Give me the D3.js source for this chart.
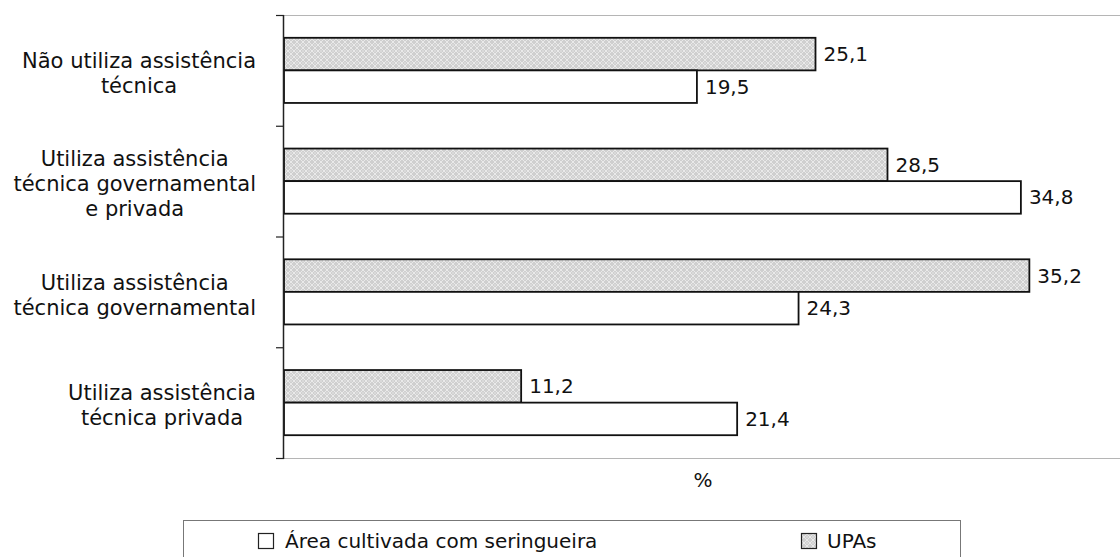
<!DOCTYPE html>
<html>
<head>
<meta charset="utf-8">
<script src="https://cdn.jsdelivr.net/npm/d3@7"></script>
<style>
  html, body { margin: 0; padding: 0; background: #fff; }
  svg { display: block; font-family: "DejaVu Sans", sans-serif; }
</style>
</head>
<body>
<svg id="chart" width="1120" height="557"></svg>
<script>
// ---- data ----
const categories = [
  "Não utiliza assistência técnica",
  "Utiliza assistência técnica governamental e privada",
  "Utiliza assistência técnica governamental",
  "Utiliza assistência técnica privada"
];
const categoryLines = [
  ["Não utiliza assistência", "técnica"],
  ["Utiliza assistência", "técnica governamental", "e privada"],
  ["Utiliza assistência", "técnica governamental"],
  ["Utiliza assistência", "técnica privada"]
];
const seriesNames = ["UPAs", "Área cultivada com seringueira"];
const upas = [25.1, 28.5, 35.2, 11.2];
const area = [19.5, 34.8, 24.3, 21.4];
const axisTitle = "%";
const fmt = v => String(v.toFixed(1)).replace(".", ",");

// ---- layout ----
const svg = d3.select("#chart");
const plot = { left: 284, top: 15, bottom: 458 };

const x = d3.scaleLinear().domain([0, 40]).range([plot.left, plot.left + 847]);
const y = d3.scaleBand().domain(categories).range([plot.top, plot.bottom]).padding(0);
const ySub = d3.scaleBand().domain(seriesNames).range([0, y.bandwidth()]).paddingInner(0).paddingOuter(0.7);

// pattern
const defs = svg.append("defs");
const pat = defs.append("pattern").attr("id", "hatch").attr("patternUnits", "userSpaceOnUse")
  .attr("width", 6).attr("height", 6);
pat.append("rect").attr("width", 6).attr("height", 6).attr("fill", "#cfcfcf");
pat.append("path").attr("d", "M0,3 L3,0 L6,3 L3,6 Z").attr("fill", "none").attr("stroke", "#ececec").attr("stroke-width", 0.9);
pat.append("circle").attr("cx", 3).attr("cy", 3).attr("r", 0.8).attr("fill", "#e6e6e6");

// light gray frame lines (top and bottom of plot area)
svg.append("line").attr("x1", 276).attr("x2", 1120).attr("y1", plot.top + 0.5).attr("y2", plot.top + 0.5)
  .attr("stroke", "#b5b5b5").attr("stroke-width", 1);
svg.append("line").attr("x1", 276).attr("x2", 1120).attr("y1", plot.bottom + 0.5).attr("y2", plot.bottom + 0.5)
  .attr("stroke", "#b5b5b5").attr("stroke-width", 1);

const seriesData = [
  { name: "UPAs", values: upas, fill: "url(#hatch)" },
  { name: "Área cultivada com seringueira", values: area, fill: "#fff" }
];

// bars
seriesData.forEach(s => {
  const g = svg.append("g");
  g.selectAll("rect").data(categories).join("rect")
    .attr("x", x(0))
    .attr("y", c => y(c) + ySub(s.name))
    .attr("width", (c, i) => x(s.values[i]) - x(0))
    .attr("height", ySub.bandwidth())
    .attr("fill", s.fill)
    .attr("stroke", "#111")
    .attr("stroke-width", 1.8);
  g.selectAll("text").data(categories).join("text")
    .attr("x", (c, i) => x(s.values[i]) + 8)
    .attr("y", c => y(c) + ySub(s.name) + ySub.bandwidth() / 2)
    .attr("dy", "0.35em")
    .attr("font-size", 20)
    .attr("fill", "#111")
    .text((c, i) => fmt(s.values[i]));
});

// y axis line and ticks at band boundaries
svg.append("line").attr("x1", plot.left - 0.5).attr("x2", plot.left - 0.5)
  .attr("y1", plot.top).attr("y2", plot.bottom + 1).attr("stroke", "#222").attr("stroke-width", 1.5);
const tickYs = categories.map(c => y(c)).concat([plot.bottom]);
svg.selectAll("line.tick").data(tickYs).join("line").attr("class", "tick")
  .attr("x1", 276).attr("x2", plot.left).attr("y1", d => d + 0.5).attr("y2", d => d + 0.5)
  .attr("stroke", "#222").attr("stroke-width", 1.2);

// category labels (centered lines, block right-aligned)
const labelRight = 256;
const lh = 25;
categories.forEach((c, i) => {
  const lines = categoryLines[i];
  const t = svg.append("text").attr("font-size", 21).attr("fill", "#111").attr("text-anchor", "middle");
  const tmp = lines.map(l => {
    const tt = svg.append("text").attr("font-size", 21).text(l);
    const w = tt.node().getComputedTextLength(); tt.remove(); return w;
  });
  const maxW = d3.max(tmp);
  const cx = labelRight - maxW / 2;
  const cy = y(c) + y.bandwidth() / 2 + 3;
  lines.forEach((l, j) => {
    t.append("tspan").attr("x", cx).attr("y", cy + (j - (lines.length - 1) / 2) * lh).attr("dy", "0.35em").text(l);
  });
});

// axis title
svg.append("text").attr("x", 703).attr("y", 487).attr("text-anchor", "middle")
  .attr("font-size", 20).attr("fill", "#111").text(axisTitle);

// legend
svg.append("rect").attr("x", 183.5).attr("y", 520.5).attr("width", 777).attr("height", 45)
  .attr("fill", "#fff").attr("stroke", "#777").attr("stroke-width", 1);
const legendItems = [
  { name: seriesNames[1], fill: "#fff", x: 258, tx: 285 },
  { name: seriesNames[0], fill: "url(#hatch)", x: 801, tx: 827 }
];
legendItems.forEach(li => {
  svg.append("rect").attr("x", li.x + 0.5).attr("y", 533.5).attr("width", 15).attr("height", 15)
    .attr("fill", li.fill).attr("stroke", "#222").attr("stroke-width", 1.2);
  svg.append("text").attr("x", li.tx).attr("y", 548).attr("font-size", 20).attr("fill", "#111").text(li.name);
});
</script>
</body>
</html>
